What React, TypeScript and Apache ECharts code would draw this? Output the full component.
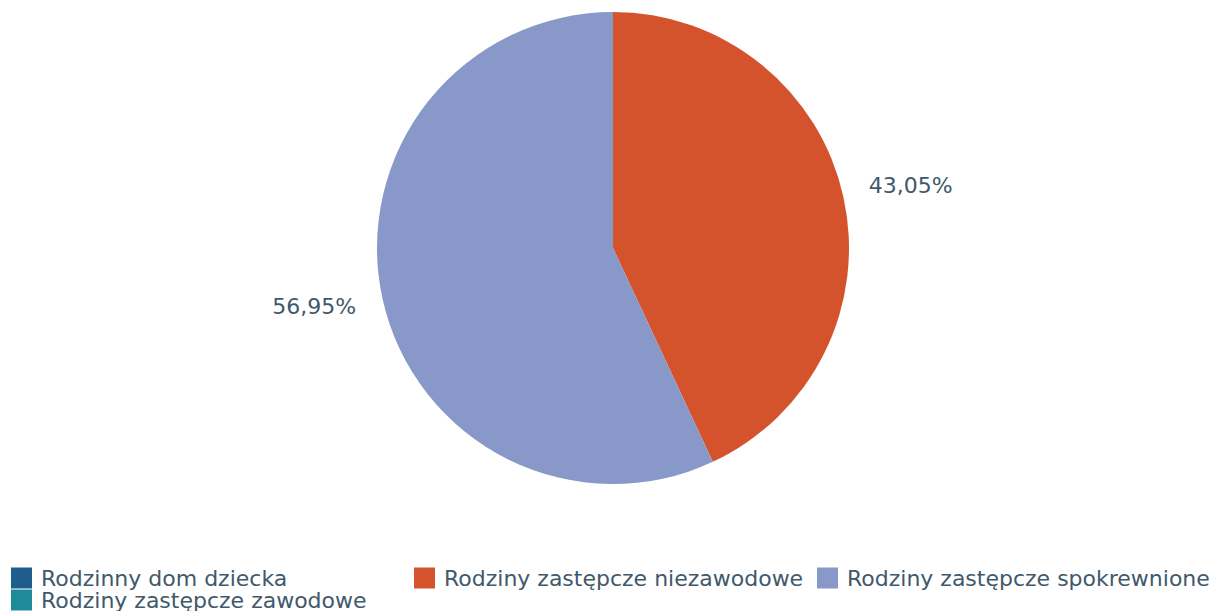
import React, { useEffect, useRef } from "react";
import * as echarts from "echarts";

const categories = [
  "Rodzinny dom dziecka",
  "Rodziny zastępcze zawodowe",
  "Rodziny zastępcze niezawodowe",
  "Rodziny zastępcze spokrewnione",
];
const values = [0, 0, 43.05, 56.95];
const colors = ["#1f5d8c", "#1f8a9a", "#d5532c", "#8898c8"];
const labelOffsets = [[0, 0], [0, 0], [1, 3], [-2, -7]];
const textColor = "#41596b";
const font = "DejaVu Sans";

export default function App() {
  const ref = useRef<HTMLDivElement>(null);
  useEffect(() => {
    const chart = echarts.init(ref.current!, null, { renderer: "svg" });
    const data = categories.map((name, i) => ({ name, value: values[i] }));
    const legendBase = {
      itemWidth: 21,
      itemHeight: 21,
      itemGap: 1,
      padding: 0,
      icon: "rect",
      selectedMode: false,
      textStyle: {
        fontFamily: font,
        fontSize: 22,
        color: textColor,
        lineHeight: 22,
        padding: [0, 0, 0, 4],
      },
    };
    chart.setOption({
      animation: false,
      color: colors,
      legend: [
        { ...legendBase, left: 11, top: 567, data: [categories[0]] },
        { ...legendBase, left: 11, top: 589, data: [categories[1]] },
        { ...legendBase, left: 414, top: 567, data: [categories[2]] },
        { ...legendBase, left: 817, top: 567, data: [categories[3]] },
      ],
      series: [
        {
          type: "pie",
          center: [613, 248],
          radius: 236,
          startAngle: 90,
          clockwise: true,
          data,
          label: { show: false },
          labelLine: { show: false },
          itemStyle: { borderWidth: 0 },
          emphasis: { disabled: true },
        },
        {
          type: "pie",
          center: [613, 248],
          radius: [236, 366],
          startAngle: 90,
          clockwise: true,
          silent: true,
          data: data.map((d, i) => ({
            ...d,
            label: { show: d.value > 0, offset: labelOffsets[i] },
          })),
          itemStyle: { color: "rgba(0,0,0,0)", borderWidth: 0 },
          label: {
            position: "inside",
            fontFamily: font,
            fontSize: 22,
            color: textColor,
            formatter: (p: any) => p.value.toFixed(2).replace(".", ",") + "%",
          },
          labelLine: { show: false },
          emphasis: { disabled: true },
        },
      ],
    });
    return () => chart.dispose();
  }, []);
  return (
    <div
      ref={ref}
      style={{ position: "fixed", left: 0, top: 0, width: 1217, height: 611, background: "#fff" }}
    />
  );
}
